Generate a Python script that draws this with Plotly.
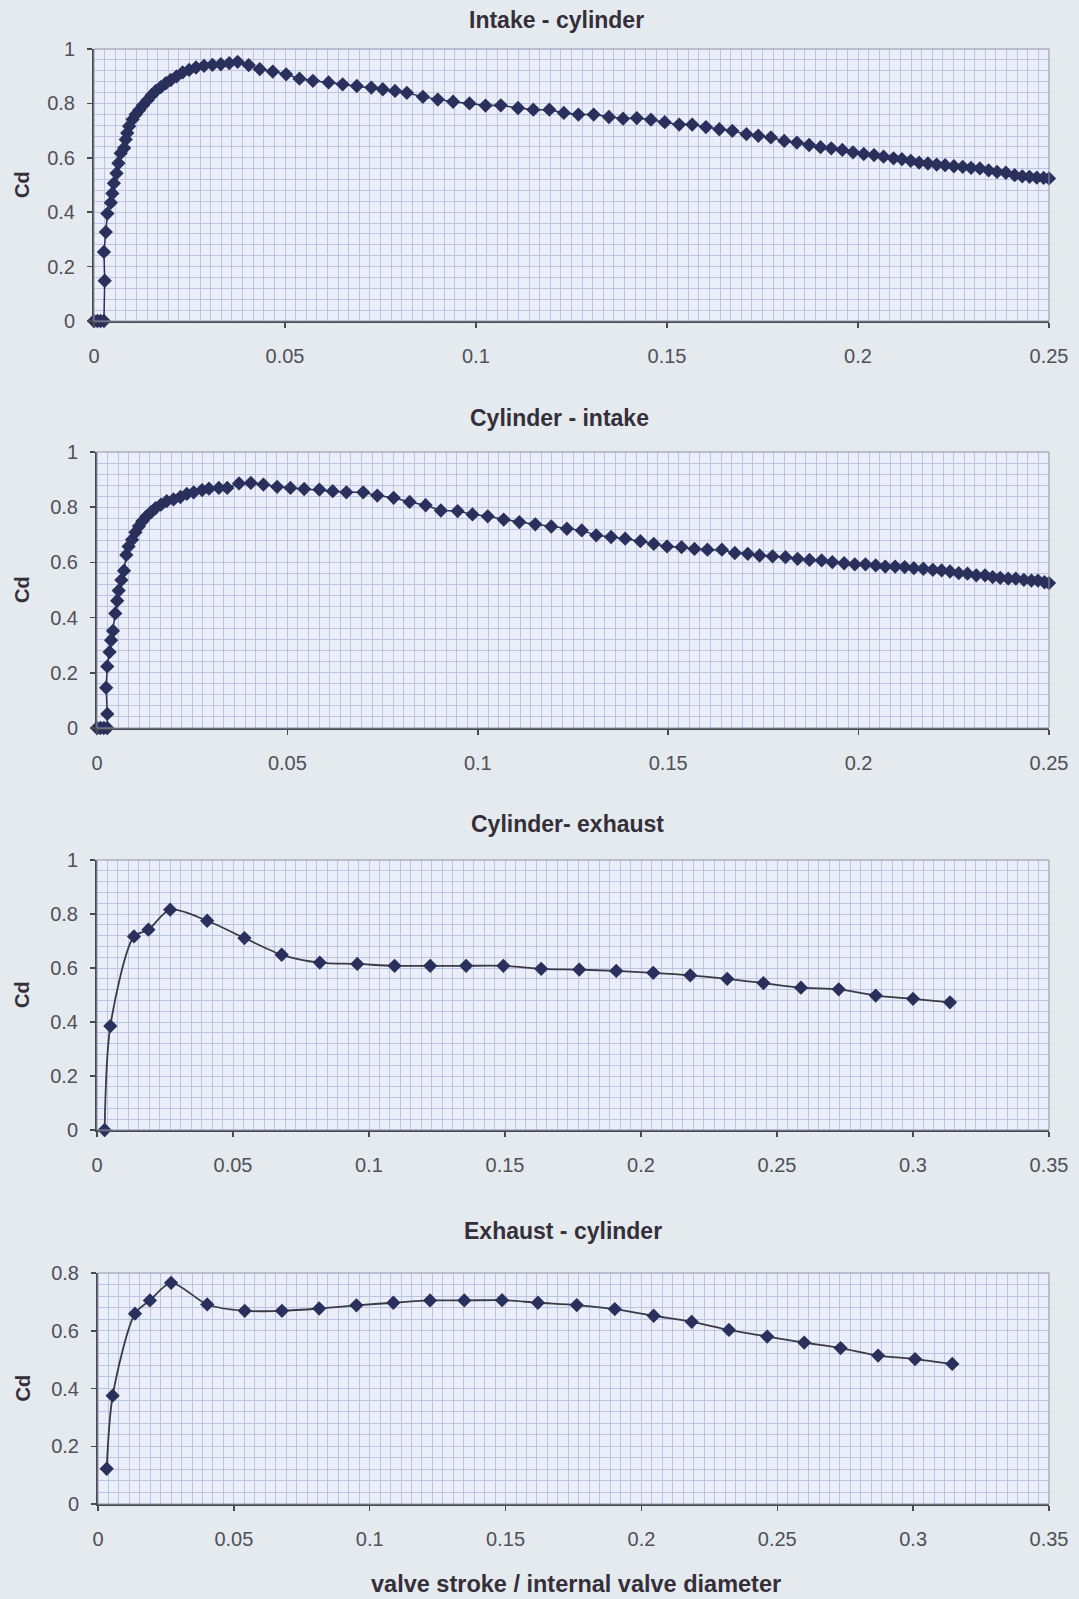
import plotly.graph_objects as go

# ---------------- data ----------------
# Intake - cylinder
ic_x = [0, 0.0009, 0.0017, 0.0026, 0.0028, 0.0026, 0.0031, 0.0035, 0.0044, 0.0048,
        0.0052, 0.0059, 0.0064, 0.0070, 0.0079, 0.0083, 0.0087, 0.0092, 0.0101, 0.0109,
        0.0118, 0.0128, 0.0140, 0.0151, 0.0162, 0.0175, 0.0188, 0.0201, 0.0216, 0.0232,
        0.0249, 0.0267, 0.0288, 0.0310, 0.0332, 0.0354, 0.0376, 0.0405, 0.0434, 0.0468,
        0.0503, 0.0538, 0.0573, 0.0614, 0.0651, 0.0688, 0.0726, 0.0756, 0.0788, 0.0819,
        0.0861, 0.0900, 0.0940, 0.0983, 0.1025, 0.1065, 0.1110, 0.1150, 0.1192, 0.1230,
        0.1268, 0.1308, 0.1348, 0.1385, 0.1421, 0.1458, 0.1494, 0.1532, 0.1566, 0.1602,
        0.1637, 0.1671, 0.1708, 0.1739, 0.1772, 0.1807, 0.1840, 0.1872, 0.1902, 0.1930,
        0.1959, 0.1987, 0.2015, 0.2042, 0.2067, 0.2093, 0.2115, 0.2138, 0.2160, 0.2183,
        0.2206, 0.2228, 0.2251, 0.2274, 0.2296, 0.2319, 0.2342, 0.2364, 0.2387, 0.2410,
        0.2430, 0.2449, 0.2468, 0.2486, 0.2500]
ic_y = [0, 0, 0, 0, 0.148, 0.254, 0.327, 0.395, 0.435, 0.469,
        0.506, 0.543, 0.580, 0.617, 0.636, 0.667, 0.691, 0.716, 0.741, 0.759,
        0.775, 0.793, 0.812, 0.830, 0.846, 0.860, 0.874, 0.886, 0.899, 0.914,
        0.923, 0.932, 0.938, 0.942, 0.944, 0.948, 0.953, 0.941, 0.926, 0.917,
        0.907, 0.891, 0.883, 0.877, 0.870, 0.864, 0.858, 0.852, 0.846, 0.839,
        0.824, 0.814, 0.806, 0.800, 0.792, 0.793, 0.783, 0.777, 0.777, 0.765,
        0.759, 0.759, 0.750, 0.744, 0.746, 0.740, 0.731, 0.722, 0.722, 0.713,
        0.705, 0.699, 0.687, 0.681, 0.675, 0.662, 0.656, 0.647, 0.639, 0.635,
        0.629, 0.620, 0.614, 0.610, 0.604, 0.598, 0.595, 0.589, 0.582, 0.579,
        0.575, 0.573, 0.569, 0.567, 0.563, 0.561, 0.554, 0.548, 0.545, 0.536,
        0.532, 0.530, 0.527, 0.526, 0.524]

# Cylinder - intake
ci_x = [0, 0.0009, 0.0018, 0.0027, 0.0027, 0.0024, 0.0027, 0.0033, 0.0037, 0.0042,
        0.0048, 0.0053, 0.0057, 0.0064, 0.0071, 0.0077, 0.0083, 0.0092, 0.0101, 0.0110,
        0.0119, 0.0130, 0.0142, 0.0154, 0.0168, 0.0183, 0.0201, 0.0219, 0.0236, 0.0254,
        0.0276, 0.0294, 0.0320, 0.0342, 0.0373, 0.0404, 0.0437, 0.0473, 0.0508, 0.0544,
        0.0584, 0.0619, 0.0655, 0.0699, 0.0736, 0.0779, 0.0821, 0.0863, 0.0903, 0.0947,
        0.0986, 0.1026, 0.1068, 0.1109, 0.1151, 0.1193, 0.1234, 0.1273, 0.1311, 0.1350,
        0.1387, 0.1427, 0.1462, 0.1497, 0.1535, 0.1569, 0.1603, 0.1641, 0.1675, 0.1709,
        0.1740, 0.1774, 0.1808, 0.1840, 0.1871, 0.1903, 0.1931, 0.1962, 0.1990, 0.2018,
        0.2045, 0.2070, 0.2096, 0.2121, 0.2145, 0.2170, 0.2195, 0.2218, 0.2240, 0.2263,
        0.2286, 0.2309, 0.2332, 0.2352, 0.2372, 0.2393, 0.2413, 0.2434, 0.2454, 0.2471,
        0.2488, 0.2500]
ci_y = [0, 0, 0, 0, 0.051, 0.146, 0.223, 0.275, 0.318, 0.352,
        0.415, 0.461, 0.498, 0.536, 0.570, 0.627, 0.658, 0.682, 0.709, 0.731,
        0.749, 0.767, 0.782, 0.797, 0.809, 0.822, 0.828, 0.837, 0.848, 0.854,
        0.862, 0.867, 0.870, 0.870, 0.886, 0.888, 0.882, 0.874, 0.870, 0.866,
        0.864, 0.858, 0.854, 0.854, 0.842, 0.834, 0.819, 0.807, 0.788, 0.786,
        0.774, 0.767, 0.755, 0.746, 0.738, 0.730, 0.722, 0.716, 0.698, 0.692,
        0.686, 0.677, 0.667, 0.658, 0.655, 0.649, 0.646, 0.646, 0.634, 0.631,
        0.625, 0.622, 0.619, 0.613, 0.609, 0.607, 0.601, 0.597, 0.593, 0.593,
        0.589, 0.585, 0.585, 0.583, 0.579, 0.577, 0.573, 0.571, 0.567, 0.561,
        0.559, 0.553, 0.553, 0.547, 0.544, 0.541, 0.541, 0.537, 0.534, 0.534,
        0.528, 0.525]

# Cylinder- exhaust
ce_x = [0.0028, 0.0049, 0.0136, 0.0189, 0.0269, 0.0405, 0.0542, 0.0679, 0.0819, 0.0957,
        0.1094, 0.1225, 0.1357, 0.1494, 0.1633, 0.1773, 0.1909, 0.2045, 0.2181, 0.2317,
        0.2450, 0.2588, 0.2727, 0.2863, 0.3000, 0.3136]
ce_y = [0, 0.385, 0.717, 0.742, 0.816, 0.775, 0.711, 0.649, 0.620, 0.615,
        0.608, 0.608, 0.608, 0.608, 0.597, 0.594, 0.589, 0.582, 0.573, 0.560,
        0.544, 0.527, 0.521, 0.498, 0.486, 0.473]

# Exhaust - cylinder
ec_x = [0.0032, 0.0054, 0.0136, 0.0191, 0.0269, 0.0402, 0.0540, 0.0677, 0.0814, 0.0951,
        0.1087, 0.1222, 0.1348, 0.1487, 0.1619, 0.1762, 0.1902, 0.2045, 0.2185, 0.2322,
        0.2463, 0.2599, 0.2733, 0.2871, 0.3007, 0.3144]
ec_y = [0.122, 0.375, 0.659, 0.705, 0.766, 0.691, 0.669, 0.669, 0.677, 0.688,
        0.697, 0.705, 0.705, 0.706, 0.697, 0.689, 0.675, 0.652, 0.631, 0.603,
        0.580, 0.559, 0.540, 0.514, 0.502, 0.485]

titles = ["Intake - cylinder", "Cylinder - intake", "Cylinder- exhaust", "Exhaust - cylinder"]
x_title = "valve stroke / internal valve diameter"
y_title = "Cd"

# ---------------- layout helpers ----------------
W, H = 1079, 1599
FONT = "Liberation Sans, Arial, sans-serif"
PAPER = "#e5eaee"
PLOT = "#eaeef8"
GRID = "#bcc4df"
AXIS = "#4a4a52"
TICKC = "#505058"
TITLEC = "#352f3a"
MARK = "#2b2f5c"

# pixel boxes: (left, right, top, bottom)
boxes = [(94, 1049, 49, 321), (97, 1049, 452, 728), (97, 1049, 860, 1130), (98, 1049, 1273, 1504)]
xmax = [0.25, 0.25, 0.35, 0.35]
ymax = [1, 1, 1, 0.8]
xminor = [0.05 / 18, 0.05 / 18, 0.05 / 13, 0.05 / 13]
title_pos = [(556, 20), (560, 418), (567, 824), (563, 1231)]

series = [(ic_x, ic_y, False), (ci_x, ci_y, False), (ce_x, ce_y, True), (ec_x, ec_y, True)]

fig = go.Figure()
layout = dict(
    template="none",
    width=W, height=H, margin=dict(l=0, r=0, t=0, b=0, autoexpand=False),
    paper_bgcolor=PAPER, plot_bgcolor=PLOT, showlegend=False,
    font=dict(family=FONT, color=TICKC),
)
annotations = []
shapes = []

for i, ((xs, ys, smooth), (l, r, t, b)) in enumerate(zip(series, boxes)):
    n = "" if i == 0 else str(i + 1)
    xa, ya = "x" + n, "y" + n
    if smooth:
        fig.add_trace(go.Scatter(
            x=xs, y=ys, xaxis=xa, yaxis=ya, mode="lines+markers",
            line=dict(color="#3a3a46", width=1.8, shape="spline", smoothing=0.8),
            marker=dict(symbol="diamond", size=11, color=MARK),
            cliponaxis=False, hoverinfo="skip"))
    else:
        fig.add_trace(go.Scatter(
            x=xs, y=ys, xaxis=xa, yaxis=ya, mode="lines+markers",
            line=dict(color=MARK, width=1.5),
            marker=dict(symbol="diamond", size=11, color=MARK),
            cliponaxis=False, hoverinfo="skip"))
    layout["xaxis" + n] = dict(
        domain=[l / W, r / W], anchor=ya, range=[0, xmax[i]], dtick=0.05, tick0=0,
        automargin=False,
        showline=True, linecolor=AXIS, linewidth=2, ticks="outside", ticklen=5,
        tickwidth=1.5, tickcolor=AXIS, showgrid=True, gridcolor=GRID, gridwidth=1,
        zeroline=False, tickfont=dict(size=20, color=TICKC, family=FONT),
        ticklabelstandoff=11,
        minor=dict(dtick=xminor[i], tick0=0, showgrid=True, gridcolor=GRID, gridwidth=1),
    )
    layout["yaxis" + n] = dict(
        domain=[1 - b / H, 1 - t / H], anchor=xa, range=[0, ymax[i]], dtick=0.2, tick0=0,
        automargin=False,
        showline=True, linecolor=AXIS, linewidth=2, ticks="outside", ticklen=5,
        tickwidth=1.5, tickcolor=AXIS, showgrid=True, gridcolor=GRID, gridwidth=1,
        zeroline=False, tickfont=dict(size=20, color=TICKC, family=FONT),
        ticklabelstandoff=8,
        minor=dict(dtick=0.04, tick0=0, showgrid=True, gridcolor=GRID, gridwidth=1),
    )
    shapes.append(dict(type="rect", xref=xa + " domain", yref=ya + " domain",
                       x0=0, x1=1, y0=0, y1=1, line=dict(color="#8e93aa", width=1),
                       layer="above"))
    tx, ty = title_pos[i]
    annotations.append(dict(text="<b>" + titles[i] + "</b>", xref="paper", yref="paper",
                            x=tx / W, y=1 - ty / H, showarrow=False, xanchor="center",
                            yanchor="middle", font=dict(size=23, color=TITLEC, family=FONT)))
    annotations.append(dict(text="<b>" + y_title + "</b>", xref="paper", yref="paper",
                            x=22 / W, y=1 - ((t + b) / 2) / H, showarrow=False, textangle=-90,
                            xanchor="center", yanchor="middle",
                            font=dict(size=20, color=TITLEC, family=FONT)))

annotations.append(dict(text="<b>" + x_title + "</b>", xref="paper", yref="paper",
                        x=576 / W, y=1 - 1584 / H, showarrow=False, xanchor="center",
                        yanchor="middle", font=dict(size=23.5, color=TITLEC, family=FONT)))

layout["annotations"] = annotations
layout["shapes"] = shapes
fig.update_layout(**layout)
fig.write_html(
    "out.html",
    config={"displayModeBar": False, "staticPlot": True},
    post_script="document.body.style.margin='0';document.body.style.padding='0';"
                "document.body.style.overflow='hidden';"
                "document.documentElement.style.overflow='hidden';",
)
